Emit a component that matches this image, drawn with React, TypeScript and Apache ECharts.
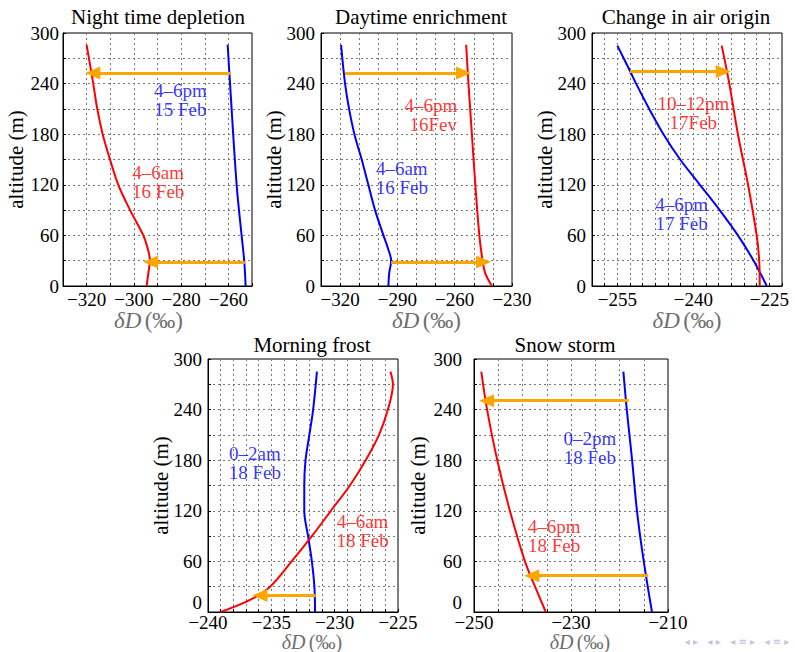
import React, { useEffect, useRef } from 'react';
import * as echarts from 'echarts';

const TITLES = ['Night time depletion', 'Daytime enrichment', 'Change in air origin', 'Morning frost', 'Snow storm'];
const Y_TICKS = [0, 60, 120, 180, 240, 300];

// x-axis label values per panel
const P1_X_TICKS = [-320, -300, -280, -260];
const P2_X_TICKS = [-320, -290, -260, -230];
const P3_X_TICKS = [-255, -240, -225];
const P4_X_TICKS = [-240, -235, -230, -225];
const P5_X_TICKS = [-250, -230, -210];

// Panel 1: Night time depletion
const P1_RED_ALT = [0, 15, 30, 45, 60, 90, 120, 150, 180, 210, 240, 286];
const P1_RED = [-294.6, -293.9, -293.2, -294.2, -296.0, -301.6, -306.6, -310.1, -313.2, -315.5, -317.2, -320.0];
const P1_BLUE_ALT = [0, 30, 60, 120, 240, 286];
const P1_BLUE = [-252.7, -253.3, -254.4, -256.5, -259.3, -260.3];
const P1_ARROW_ALT = [252.5, 28.5];
const P1_ARROW_FROM = [-259.3, -253.0];
const P1_ARROW_TO = [-317.4, -292.9];

// Panel 2: Daytime enrichment
const P2_BLUE_ALT = [0, 15, 30, 45, 60, 90, 120, 150, 180, 210, 240, 286];
const P2_BLUE = [-294.7, -294.3, -293.3, -295.0, -297.3, -301.7, -305.2, -308.7, -312.5, -315.3, -317.4, -319.5];
const P2_RED_ALT = [0, 15, 30, 60, 120, 180, 240, 286];
const P2_RED = [-240.5, -244.0, -245.4, -247.1, -249.2, -251.0, -252.8, -254.0];
const P2_ARROW_ALT = [252.5, 28.5];
const P2_ARROW_FROM = [-317.4, -293.3];
const P2_ARROW_TO = [-255.4, -244.9];

// Panel 3: Change in air origin
const P3_RED_ALT = [0, 30, 60, 120, 180, 240, 285];
const P3_RED = [-226.9, -227.0, -227.5, -229.2, -231.2, -232.9, -234.4];
const P3_BLUE_ALT = [0, 30, 60, 90, 120, 150, 180, 210, 240, 255, 285];
const P3_BLUE = [-225.5, -228.1, -231.2, -234.8, -238.7, -242.6, -245.9, -248.7, -251.3, -252.5, -255.0];
const P3_ARROW_ALT = [254.4];
const P3_ARROW_FROM = [-252.5];
const P3_ARROW_TO = [-234.1];

// Panel 4: Morning frost
const P4_BLUE_ALT = [0, 30, 60, 90, 120, 150, 180, 210, 240, 285];
const P4_BLUE = [-231.55, -231.6, -231.8, -232.1, -232.4, -232.4, -232.3, -232.0, -231.7, -231.4];
const P4_RED_ALT = [0, 15, 30, 60, 90, 120, 150, 180, 210, 240, 270, 285];
const P4_RED = [-239.0, -236.6, -235.1, -233.4, -231.8, -230.3, -228.8, -227.55, -226.5, -225.8, -225.4, -225.6];
const P4_ARROW_ALT = [19.7];
const P4_ARROW_FROM = [-231.5];
const P4_ARROW_TO = [-235.9];

// Panel 5: Snow storm
const P5_RED_ALT = [0, 30, 60, 120, 180, 240, 285];
const P5_RED = [-235.2, -237.4, -239.5, -242.6, -245.2, -247.3, -248.5];
const P5_BLUE_ALT = [0, 60, 120, 180, 240, 285];
const P5_BLUE = [-213.3, -215.0, -216.4, -217.4, -218.5, -219.2];
const P5_ARROW_ALT = [250.6, 43];
const P5_ARROW_FROM = [-218.1, -214.1];
const P5_ARROW_TO = [-247.4, -238.1];

// annotation texts: [text, x, altitude, colour key]
const P1_NOTES: [string, number, number, string][] = [
  ['4–6pm\n15 Feb', -280.3, 220, 'b'],
  ['4–6am\n16 Feb', -289.7, 123, 'r'],
];
const P2_NOTES: [string, number, number, string][] = [
  ['4–6pm\n 16Fev', -272.5, 203, 'r'],
  ['4–6am\n16 Feb', -287.7, 128, 'b'],
];
const P3_NOTES: [string, number, number, string][] = [
  ['10–12pm\n17Feb', -240.0, 205, 'r'],
  ['4–6pm\n17 Feb', -242.3, 85, 'b'],
];
const P4_NOTES: [string, number, number, string][] = [
  ['0–2am\n18 Feb', -236.3, 177, 'b'],
  ['4–6am\n18 Feb', -227.8, 96, 'r'],
];
const P5_NOTES: [string, number, number, string][] = [
  ['0–2pm\n18 Feb', -226.1, 194, 'b'],
  ['4–6pm\n18 Feb', -233.5, 90, 'r'],
];

const RED = '#ff0000';
const BLUE = '#0000ff';
const ORANGE = '#ffa500';
const FONT = '"Liberation Serif", "Times New Roman", serif';

const GRIDS = [
  { left: 63, top: 33, width: 189, height: 253 },
  { left: 321, top: 33, width: 191, height: 253 },
  { left: 592, top: 33, width: 190, height: 253 },
  { left: 208, top: 359, width: 190, height: 253 },
  { left: 474, top: 359, width: 194, height: 253 },
];
const X_RANGES = [
  { min: -330, max: -250, interval: 10 },
  { min: -330, max: -230, interval: 10 },
  { min: -260, max: -222.5, interval: 2.5 },
  { min: -240, max: -225, interval: 1 },
  { min: -250, max: -210, interval: 5 },
];
const X_LABEL_MARGIN = [4, 4, 4, 1, 1];
const Y_LABEL_MARGIN = [4, 6, 6, 6, 12];
const X_NAME_SHIFT = [-9, 10, 0, 9, 9];
const X_NAME_GAP = [23, 23, 23, 20, 20];
const X_NAME_SIZE = [23, 23, 23, 20, 20];
const X_TICKS = [P1_X_TICKS, P2_X_TICKS, P3_X_TICKS, P4_X_TICKS, P5_X_TICKS];

const near = (v: number, list: number[]) => list.some((t) => Math.abs(t - v) < 1e-6);
const fmt = (v: number) => String(v).replace('-', '\u2212');

function curve(idx: number, alts: number[], vals: number[], color: string, arrows?: { alt: number[]; from: number[]; to: number[] }) {
  const s: any = {
    type: 'line',
    xAxisIndex: idx,
    yAxisIndex: idx,
    data: alts.map((a, i) => [vals[i], a]),
    showSymbol: false,
    smooth: 0.35,
    lineStyle: { color, width: 2 },
    itemStyle: { color },
    z: 3,
  };
  if (arrows) {
    s.markLine = {
      silent: true,
      symbol: ['none', 'triangle'],
      symbolSize: [13, 15],
      lineStyle: { color: ORANGE, width: 3, type: 'solid' },
      itemStyle: { color: ORANGE },
      label: { show: false },
      emphasis: { disabled: true },
      z: 5,
      data: arrows.alt.map((a, i) => [
        { coord: [arrows.from[i], a] },
        { coord: [arrows.to[i], a] },
      ]),
    };
  }
  return s;
}

function notes(idx: number, list: [string, number, number, string][]) {
  return {
    type: 'scatter',
    xAxisIndex: idx,
    yAxisIndex: idx,
    symbolSize: 1,
    itemStyle: { color: 'rgba(0,0,0,0)' },
    silent: true,
    z: 4,
    data: list.map(([t, x, y, c]) => ({
      value: [x, y],
      label: {
        show: true,
        position: 'inside',
        formatter: t,
        color: c === 'r' ? RED : BLUE,
        fontFamily: FONT,
        fontSize: 19,
        lineHeight: 19,
        align: 'center',
        verticalAlign: 'middle',
      },
    })),
  };
}

export default function App() {
  const ref = useRef<HTMLDivElement>(null);
  useEffect(() => {
    if (!ref.current) return;
    const chart = echarts.init(ref.current, undefined, { renderer: 'svg' });
    const xAxis = GRIDS.map((_, i) => ({
      type: 'value',
      gridIndex: i,
      min: X_RANGES[i].min,
      max: X_RANGES[i].max,
      interval: X_RANGES[i].interval,
      name: '{a|δD} {b|(‰)}',
      nameLocation: 'middle',
      nameGap: X_NAME_GAP[i],
      nameMoveOverlap: false,
      nameTextStyle: {
        padding: X_NAME_SHIFT[i] >= 0 ? [0, 0, 0, 2 * X_NAME_SHIFT[i]] : [0, -2 * X_NAME_SHIFT[i], 0, 0],
        rich: {
          a: { fontFamily: FONT, fontStyle: 'italic', fontSize: X_NAME_SIZE[i], color: '#6e6e6e' },
          b: { fontFamily: FONT, fontSize: X_NAME_SIZE[i], color: '#6e6e6e' },
        },
      },
      axisLine: { show: true, onZero: false, lineStyle: { color: '#000', width: 1 } },
      axisTick: { show: true, inside: true, length: 3, lineStyle: { color: '#000' } },
      axisLabel: {
        showMinLabel: true,
        showMaxLabel: true,
        margin: X_LABEL_MARGIN[i],
        color: '#000',
        fontFamily: FONT,
        fontSize: 19,
        formatter: (v: number) => (near(v, X_TICKS[i]) ? fmt(v) : ''),
      },
      splitLine: { show: true, lineStyle: { color: '#777', type: [2, 3], width: 1 } },
    }));
    const yAxis = GRIDS.map((_, i) => ({
      type: 'value',
      gridIndex: i,
      min: 0,
      max: 300,
      interval: 30,
      name: 'altitude (m)',
      nameLocation: 'middle',
      nameGap: i === 4 ? 46 : 37,
      nameMoveOverlap: false,
      nameTextStyle: { fontFamily: FONT, fontSize: 21, color: '#000' },
      axisLine: { show: true, onZero: false, lineStyle: { color: '#000', width: 1 } },
      axisTick: { show: true, inside: true, length: 3, lineStyle: { color: '#000' } },
      axisLabel: {
        showMinLabel: true,
        showMaxLabel: true,
        margin: Y_LABEL_MARGIN[i],
        color: '#000',
        fontFamily: FONT,
        fontSize: 19,
        verticalAlignMinLabel: i >= 3 ? 'bottom' : undefined,
        formatter: (v: number) => (near(v, Y_TICKS) ? String(v) : ''),
      },
      splitLine: { show: true, lineStyle: { color: '#777', type: [2, 3], width: 1 } },
    }));
    const titleCenters = [
      [158, 17],
      [421, 17],
      [686, 17],
      [312, 345],
      [565, 345],
    ];
    const graphic: any[] = TITLES.map((t, i) => ({
      type: 'text',
      x: titleCenters[i][0],
      y: titleCenters[i][1],
      style: {
        text: t,
        fontFamily: FONT,
        fontSize: 21,
        fill: '#000',
        textAlign: 'center',
        textVerticalAlign: 'middle',
      },
    }));
    graphic.push({
      type: 'text',
      x: 737,
      y: 641,
      style: {
        text: '\u25C2 \u25B8   \u25C2 \u25B8   \u25C2 \u2261 \u25B8   \u25C2 \u2261 \u25B8',
        fontFamily: 'DejaVu Sans',
        fontSize: 10,
        fill: '#c3c3e0',
        textAlign: 'center',
        textVerticalAlign: 'middle',
      },
    });
    const series: any[] = [
      curve(0, P1_BLUE_ALT, P1_BLUE, BLUE),
      curve(0, P1_RED_ALT, P1_RED, RED, { alt: P1_ARROW_ALT, from: P1_ARROW_FROM, to: P1_ARROW_TO }),
      notes(0, P1_NOTES),
      curve(1, P2_BLUE_ALT, P2_BLUE, BLUE),
      curve(1, P2_RED_ALT, P2_RED, RED, { alt: P2_ARROW_ALT, from: P2_ARROW_FROM, to: P2_ARROW_TO }),
      notes(1, P2_NOTES),
      curve(2, P3_BLUE_ALT, P3_BLUE, BLUE),
      curve(2, P3_RED_ALT, P3_RED, RED, { alt: P3_ARROW_ALT, from: P3_ARROW_FROM, to: P3_ARROW_TO }),
      notes(2, P3_NOTES),
      curve(3, P4_BLUE_ALT, P4_BLUE, BLUE),
      curve(3, P4_RED_ALT, P4_RED, RED, { alt: P4_ARROW_ALT, from: P4_ARROW_FROM, to: P4_ARROW_TO }),
      notes(3, P4_NOTES),
      curve(4, P5_BLUE_ALT, P5_BLUE, BLUE),
      curve(4, P5_RED_ALT, P5_RED, RED, { alt: P5_ARROW_ALT, from: P5_ARROW_FROM, to: P5_ARROW_TO }),
      notes(4, P5_NOTES),
    ];
    chart.setOption({
      animation: false,
      backgroundColor: '#fff',
      grid: GRIDS.map((g) => ({
        ...g,
        containLabel: false,
        outerBoundsMode: 'none',
        show: true,
        borderColor: '#000',
        borderWidth: 1,
        backgroundColor: 'transparent',
      })),
      xAxis,
      yAxis,
      series,
      graphic,
    });
    return () => chart.dispose();
  }, []);
  return (
    <div
      ref={ref}
      style={{ position: 'fixed', left: 0, top: 0, width: 795, height: 652, background: '#fff' }}
    />
  );
}
